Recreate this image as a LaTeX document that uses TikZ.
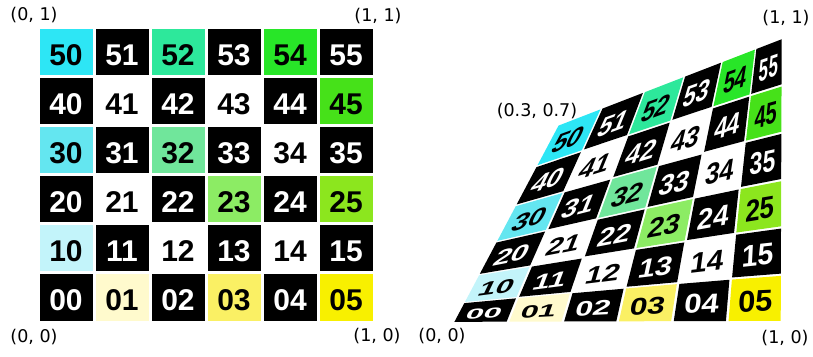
\documentclass[tikz,border=0pt]{standalone}
\usepackage{fontspec}
\setmainfont{Liberation Sans}
\newfontfamily\coordfont{DejaVu Sans}

\definecolor{cyanA}{RGB}{45,230,245}
\definecolor{cyanB}{RGB}{100,230,240}
\definecolor{cyanC}{RGB}{195,244,250}
\definecolor{seaA}{RGB}{45,232,155}
\definecolor{seaB}{RGB}{112,230,155}
\definecolor{greenA}{RGB}{40,230,40}
\definecolor{greenB}{RGB}{70,225,25}
\definecolor{greenC}{RGB}{140,236,100}
\definecolor{limeA}{RGB}{140,230,30}
\definecolor{yelA}{RGB}{248,240,0}
\definecolor{yelB}{RGB}{250,240,100}
\definecolor{yelC}{RGB}{255,250,205}

% warped square: bottom and right edges even, left and top edges stretched
\newcommand{\warpat}[2]{%
  \pgfmathsetmacro{\wf}{(max((#2),0.0001))^1.3}%
  \pgfmathsetmacro{\wg}{1-(max(1-(#1),0.0001))^1.2}%
  \pgfmathsetmacro{\wx}{(1-(#2))*(453+329*(#1)) + (#2)*(558+224*\wg) + (1-(#1))*(453+105*\wf) + (#1)*782
     - ((1-(#1))*(1-(#2))*453 + (#1)*(1-(#2))*782 + (1-(#1))*(#2)*558 + (#1)*(#2)*782)}%
  \pgfmathsetmacro{\wy}{(1-(#2))*34 + (#2)*(231+87*\wg) + (1-(#1))*(34+197*\wf) + (#1)*(34+284*(#2))
     - ((1-(#1))*(1-(#2))*34 + (#1)*(1-(#2))*34 + (1-(#1))*(#2)*231 + (#1)*(#2)*318)}%
}

\def\cells{
  0/0/black/white, 0/1/yelC/black, 0/2/black/white, 0/3/yelB/black, 0/4/black/white, 0/5/yelA/black,
  1/0/cyanC/black, 1/1/black/white, 1/2/white/black, 1/3/black/white, 1/4/white/black, 1/5/black/white,
  2/0/black/white, 2/1/white/black, 2/2/black/white, 2/3/greenC/black, 2/4/black/white, 2/5/limeA/black,
  3/0/cyanB/black, 3/1/black/white, 3/2/seaB/black, 3/3/black/white, 3/4/white/black, 3/5/black/white,
  4/0/black/white, 4/1/white/black, 4/2/black/white, 4/3/white/black, 4/4/black/white, 4/5/greenB/black,
  5/0/cyanA/black, 5/1/black/white, 5/2/seaA/black, 5/3/black/white, 5/4/greenA/black, 5/5/black/white}

\tikzset{
  cellnum/.style={font=\bfseries\fontsize{30}{30}\selectfont, inner sep=0pt},
  coordlabel/.style={font=\coordfont\fontsize{17.5}{18}\selectfont, inner sep=0pt}
}

\begin{document}
\begin{tikzpicture}[x=1pt, y=1pt]
  \useasboundingbox (0,0) rectangle (813,356);

  % flat grid
  \foreach \r/\c/\cellfill/\ink in \cells {
    \fill[\cellfill] ({39.5+56*\c},{35.5+49*\r}) rectangle ({92.5+56*\c},{81.5+49*\r});
    \node[cellnum, text=\ink] (f\r\c) at ({66+56*\c},{56+49*\r}) {\r\c};
  }

  % warped grid
  \foreach \r/\c/\cellfill/\ink in \cells {
    \pgfmathsetmacro{\ua}{\c/6+0.004}
    \pgfmathsetmacro{\ub}{(\c+1)/6-0.004}
    \pgfmathsetmacro{\va}{\r/6+0.004}
    \pgfmathsetmacro{\vb}{(\r+1)/6-0.004}
    \warpat{\ua}{\va}\coordinate (q1) at (\wx,\wy);
    \warpat{\ub}{\va}\coordinate (q2) at (\wx,\wy);
    \warpat{\ub}{\vb}\coordinate (q3) at (\wx,\wy);
    \warpat{\ua}{\vb}\coordinate (q4) at (\wx,\wy);
    \fill[\cellfill] (q1) -- (q2) -- (q3) -- (q4) -- cycle;
    % local frame of the cell for its number
    \pgfmathsetmacro{\um}{(\c+0.5)/6}
    \pgfmathsetmacro{\vm}{(\r+0.5)/6}
    \warpat{\c/6}{\vm}\let\xl\wx\let\yl\wy
    \warpat{(\c+1)/6}{\vm}\let\xr\wx\let\yr\wy
    \warpat{\um}{\r/6}\let\xb\wx\let\yb\wy
    \warpat{\um}{(\r+1)/6}\let\xt\wx\let\yt\wy
    \warpat{\um}{\vm}
    \pgfmathsetmacro{\ta}{1.08*(\xr-\xl)/56}
    \pgfmathsetmacro{\tb}{1.08*(\yr-\yl)/56}
    \pgfmathsetmacro{\tc}{1.08*(\xt-\xb)/49}
    \pgfmathsetmacro{\td}{1.08*(\yt-\yb)/49}
    \begin{scope}[cm={\ta,\tb,\tc,\td,(\wx,\wy)}]
      \node[cellnum, text=\ink, transform shape] (w\r\c) at (0,-2) {\r\c};
    \end{scope}
  }

  % corner labels
  \node[coordlabel] (fl01) at (34,341) {(0, 1)};
  \node[coordlabel] (fl11) at (378,340) {(1, 1)};
  \node[coordlabel] (fl00) at (34,19) {(0, 0)};
  \node[coordlabel] (fl10) at (377,20) {(1, 0)};
  \node[coordlabel] (wl01) at (537,245) {(0.3, 0.7)};
  \node[coordlabel] (wl11) at (786,338) {(1, 1)};
  \node[coordlabel] (wl00) at (442,20) {(0, 0)};
  \node[coordlabel] (wl10) at (785,18) {(1, 0)};
\end{tikzpicture}
\end{document}
